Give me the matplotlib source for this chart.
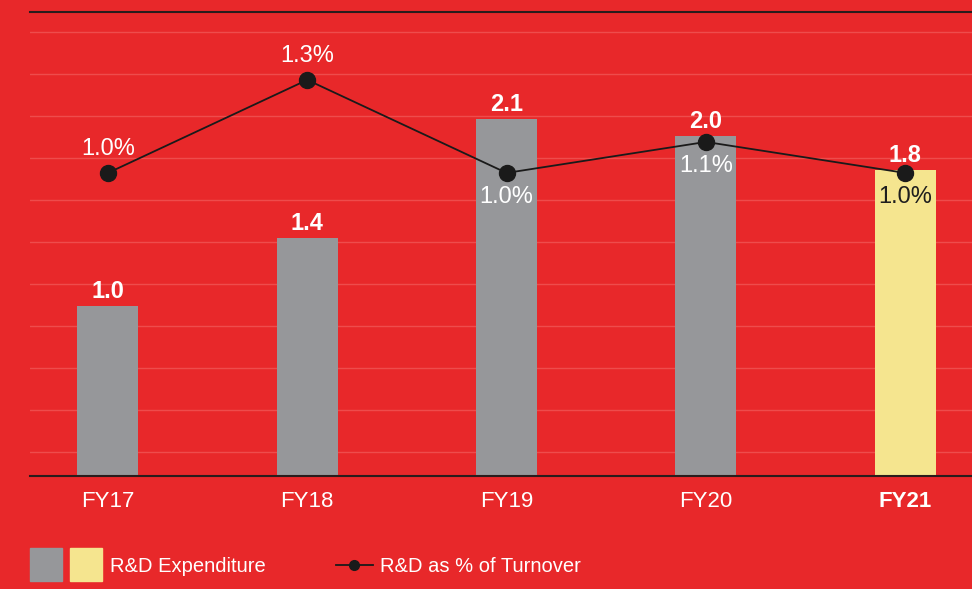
import numpy as np
import matplotlib.pyplot as plt
from matplotlib.patches import Rectangle
from matplotlib.lines import Line2D

plt.rcParams['font.family'] = ['Liberation Sans', 'DejaVu Sans']

# data
years = ['FY17', 'FY18', 'FY19', 'FY20', 'FY21']
spend = [1.0, 1.4, 2.1, 2.0, 1.8]
pct = [1.0, 1.3, 1.0, 1.1, 1.0]
pct_lbl_above = [True, True, False, False, False]

bg = '#E8282A'
grey = '#96979A'
yellow = '#F5E58F'
dark = '#2A1C1C'

fig = plt.figure(figsize=(9.72, 5.89), dpi=100, facecolor=bg)
ax = fig.add_axes([30 / 972, 113 / 589, 942 / 972, 464 / 589])
ax.patch.set_visible(False)

x = np.arange(len(years))
cols = [grey] * 4 + [yellow]
ax.bar(x, spend, width=0.306, color=cols, zorder=2)
ax.set_xlim(-0.391, 4.335)
ax.set_ylim(0, 2.729)

# faint grid lines
for g in np.arange(0.141, 2.7, 0.247):
    ax.axhline(g, color='#EE4C4C', lw=1, zorder=1)

for s in ['left', 'right']:
    ax.spines[s].set_visible(False)
for s in ['top', 'bottom']:
    ax.spines[s].set_color(dark)
    ax.spines[s].set_linewidth(1.5)
ax.set_yticks([])
ax.set_xticks(x)
ax.set_xticklabels(years, fontsize=16, color='white')
ax.tick_params(axis='x', length=0, pad=11)
ax.get_xticklabels()[-1].set_fontweight('bold')

for i, v in enumerate(spend):
    ax.annotate(f'{v:.1f}', (x[i], v), xytext=(0, 2), textcoords='offset points',
                ha='center', va='bottom', fontsize=17, fontweight='bold', color='white', zorder=5)

ax2 = ax.twinx()
ax2.set_ylim(0.0226, 1.519)
ax2.set_yticks([])
for s in ax2.spines.values():
    s.set_visible(False)
ax2.plot(x, pct, color='#1A1A1A', lw=1.3, marker='o', markersize=11.5, zorder=3)
for i, v in enumerate(pct):
    c = '#1E1E1E' if i == 4 else 'white'
    off = 17 if pct_lbl_above[i] else -17
    ax2.annotate(f'{v:.1f}%', (x[i], v), xytext=(0, off), textcoords='offset points',
                 ha='center', va='center', fontsize=17, color=c, zorder=5)

# legend
fig.patches.append(Rectangle((30 / 972, 8 / 589), 32 / 972, 33 / 589,
                             transform=fig.transFigure, color=grey))
fig.patches.append(Rectangle((70 / 972, 8 / 589), 32 / 972, 33 / 589,
                             transform=fig.transFigure, color=yellow))
fig.text(110 / 972, 23 / 589, 'R&D Expenditure', fontsize=14.5, color='white', va='center')
fig.add_artist(Line2D([336 / 972, 354 / 972, 373 / 972], [24 / 589] * 3, transform=fig.transFigure,
                      color='#1A1A1A', lw=1.3, marker='o', markersize=7, markevery=[1]))
fig.text(380 / 972, 23 / 589, 'R&D as % of Turnover', fontsize=14.5, color='white', va='center')

fig.savefig('out.png', dpi=100, facecolor=bg)
